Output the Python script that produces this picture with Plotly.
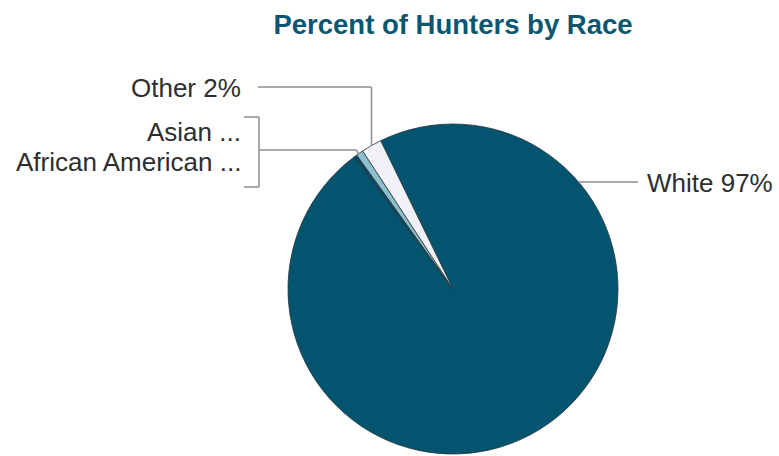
import math
import plotly.graph_objects as go

# Share of hunters by race (percent)
races = ["White", "African American", "Asian", "Other"]
shares = [97.0, 0.3, 0.7, 2.0]
slice_colors = ["#03556f", "#0b4a63", "#8dbfcc", "#f1f2f8"]

label_texts = ["White 97%", "African American ...", "Asian ...", "Other 2%"]

W, H = 779, 456
CX, CY, R = 453, 289, 165          # pie centre / radius in pixels
START = -26.0                      # first slice starts this many degrees off 12 o'clock

LINE = "#8c8c8c"
TEXT = "#2e2e2e"


def px(x):
    return x / W


def py(y):
    return 1 - y / H


def slice_angles():
    """Start/end angle (deg, clockwise from 12 o'clock) of every slice."""
    total = sum(shares)
    out, a = [], START
    for v in shares:
        span = 360 * v / total
        out.append((a, a + span))
        a += span
    return out


def edge_point(deg):
    rad = math.radians(deg)
    return CX + R * math.sin(rad), CY - R * math.cos(rad)


fig = go.Figure(
    go.Pie(
        labels=races,
        values=shares,
        sort=False,
        direction="clockwise",
        rotation=START,
        textinfo="none",
        hoverinfo="label+percent",
        marker=dict(colors=slice_colors, line=dict(color="#26343c", width=0.8)),
        domain=dict(x=[px(CX - R), px(CX + R)], y=[py(CY + R), py(CY - R)]),
        showlegend=False,
    )
)

angles = slice_angles()
shapes, annotations = [], []


def seg(x0, y0, x1, y1):
    shapes.append(dict(type="line", xref="paper", yref="paper",
                       x0=px(x0), y0=py(y0), x1=px(x1), y1=py(y1),
                       line=dict(color=LINE, width=1.5)))


def label(text, x, y, anchor):
    annotations.append(dict(text=text, xref="paper", yref="paper",
                            x=px(x), y=py(y), xanchor=anchor, yanchor="middle",
                            showarrow=False,
                            font=dict(family="Liberation Sans, Arial, sans-serif",
                                      size=26, color=TEXT)))


# White: horizontal leader from the rim to the label on the right
white_y = 182
white_x = CX + math.sqrt(R ** 2 - (CY - white_y) ** 2)
seg(white_x, white_y, 638, white_y)
label(label_texts[0], 645, white_y + 1, "left")

# Other: elbow leader from the slice's mid-angle on the rim
o0, o1 = angles[3]
ox, oy = edge_point((o0 + o1) / 2)
other_y = 87
seg(ox, oy, ox, other_y)
seg(ox, other_y, 258, other_y)
label(label_texts[3], 243, other_y + 1, "right")

# Asian + African American: bracketed pair joined to the rim
a0 = angles[1][0]
a1 = angles[2][1]
ax, ay = edge_point((a0 + a1) / 2)
br_x, br_top, br_bot, br_mid = 259, 117, 187, 150
seg(244, br_top, br_x, br_top)
seg(br_x, br_top, br_x, br_bot)
seg(244, br_bot, br_x, br_bot)
seg(br_x, br_mid, ax - 2, br_mid)
seg(ax - 2, br_mid, ax, ay)
label(label_texts[2], 243, 132, "right")
label(label_texts[1], 243, 162, "right")

fig.update_layout(
    width=W,
    height=H,
    margin=dict(l=0, r=0, t=0, b=0),
    paper_bgcolor="white",
    plot_bgcolor="white",
    shapes=shapes,
    annotations=annotations,
    title=dict(
        text="<b>Percent of Hunters by Race</b>",
        x=px(453),
        xanchor="center",
        y=py(24),
        yanchor="middle",
        font=dict(family="Liberation Sans, Arial, sans-serif",
                  size=27.5, color="#0b5670"),
    ),
)

fig.write_html("out.html")
